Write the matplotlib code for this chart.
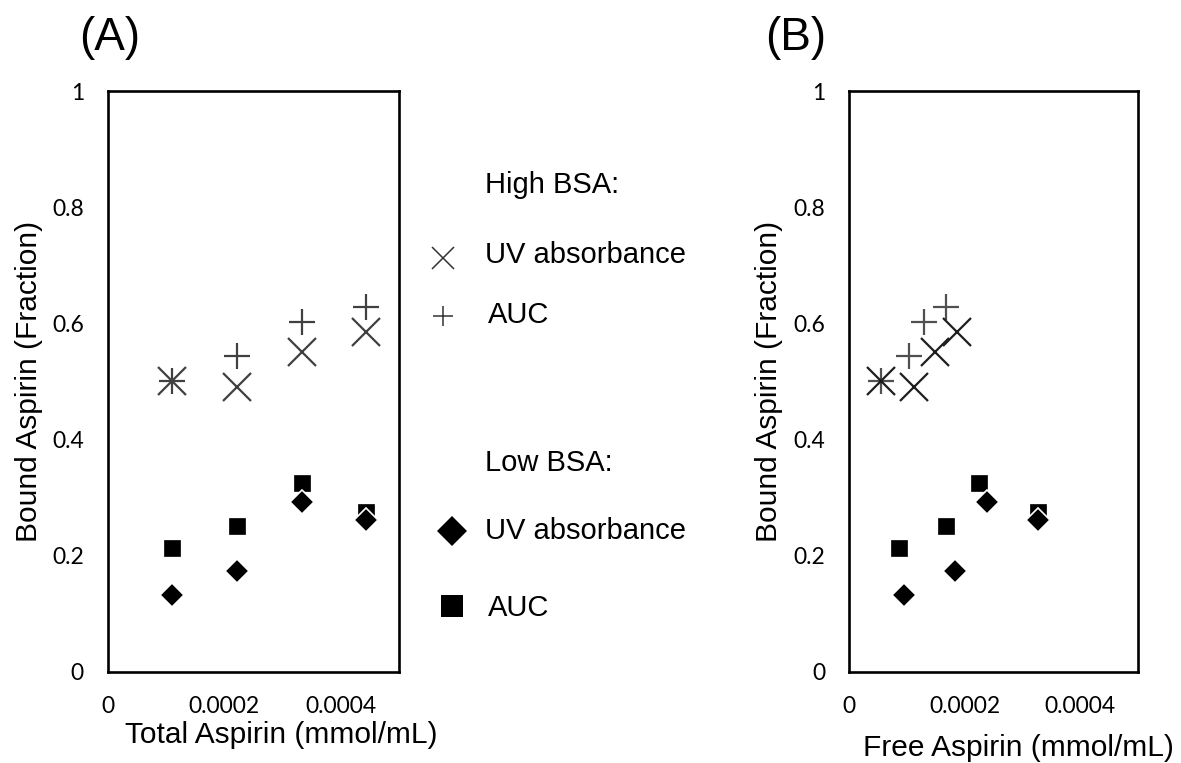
import matplotlib
matplotlib.use("Agg")
import matplotlib.pyplot as plt
from matplotlib.lines import Line2D

W, H = 1181, 763

# ---------------- data ----------------
total_aspirin = [0.000111, 0.000222, 0.000333, 0.000444]
high_uv_bound = [0.501, 0.491, 0.550, 0.585]
high_auc_bound = [0.501, 0.544, 0.603, 0.628]
low_uv_bound = [0.133, 0.173, 0.292, 0.262]
low_auc_bound = [0.213, 0.252, 0.325, 0.276]

free_high_uv = [0.0000551, 0.000113, 0.000148, 0.000186]
free_high_auc = [0.0000551, 0.000103, 0.000130, 0.000167]
free_low_uv = [0.0000944, 0.000183, 0.000238, 0.000327]
free_low_auc = [0.0000857, 0.000167, 0.000225, 0.000327]

y_ticks = [0, 0.2, 0.4, 0.6, 0.8, 1]
y_tick_labels = ["0", "0.2", "0.4", "0.6", "0.8", "1"]
x_ticks = [0, 0.0002, 0.0004]
x_tick_labels = ["0", "0.0002", "0.0004"]

panel_titles = ["(A)", "(B)"]
x_labels = ["Total Aspirin (mmol/mL)", "Free Aspirin (mmol/mL)"]
y_label = "Bound Aspirin (Fraction)"
legend_headers = ["High BSA:", "Low BSA:"]
legend_entries = ["UV absorbance", "AUC"]

TXT = "Liberation Sans"
TICK = "Lato"

fig = plt.figure(figsize=(W / 100, H / 100), dpi=100)


def px_axes(left, top, right, bottom):
    return [left / W, (H - bottom) / H, (right - left) / W, (bottom - top) / H]


axA = fig.add_axes(px_axes(107.5, 91, 399, 672))
axB = fig.add_axes(px_axes(849, 91, 1138, 672))

gx = "#404040"


def style(ax, xlabel, xlab_pos, ylab_x):
    ax.set_xlim(0, 0.0005)
    ax.set_ylim(0, 1)
    ax.set_xticks(x_ticks)
    ax.set_xticklabels(x_tick_labels, fontfamily=TICK, fontsize=16.5)
    ax.set_yticks(y_ticks)
    ax.set_yticklabels(y_tick_labels, fontfamily=TICK, fontsize=16.5)
    ax.tick_params(axis="x", length=0, pad=17)
    ax.tick_params(axis="y", length=0, pad=17)
    for s in ax.spines.values():
        s.set_linewidth(1.9)
        s.set_color("black")
    ax.set_xlabel(xlabel, fontfamily=TXT, fontsize=21.5)
    ax.xaxis.label.set_va("baseline")
    ax.xaxis.set_label_coords(*xlab_pos)
    ax.set_ylabel(y_label, fontfamily=TXT, fontsize=21.5)
    ax.yaxis.label.set_va("baseline")
    ax.yaxis.set_label_coords(ylab_x, 0.5)


# Panel A
axA.plot(total_aspirin, high_uv_bound, ls="none", marker="x", ms=20, mew=1.6, color=gx)
axA.plot(total_aspirin, high_auc_bound, ls="none", marker="+", ms=19, mew=1.6, color=gx)
axA.plot(total_aspirin, low_auc_bound, ls="none", marker="s", ms=11, mew=0.5, color="black")
axA.plot(total_aspirin, low_uv_bound, ls="none", marker="D", ms=12, mew=1.2,
         mfc="black", mec="white")
style(axA, x_labels[0], (0.595, -0.122), -0.242)

# Panel B
axB.plot(free_high_auc, high_auc_bound, ls="none", marker="+", ms=19, mew=1.6, color="#505050")
axB.plot(free_high_uv, high_uv_bound, ls="none", marker="x", ms=20, mew=1.6, color="#1e1e1e")
axB.plot(free_low_auc, low_auc_bound, ls="none", marker="s", ms=11, mew=0.5, color="black")
axB.plot(free_low_uv, low_uv_bound, ls="none", marker="D", ms=12, mew=1.2,
         mfc="black", mec="white")
style(axB, x_labels[1], (0.585, -0.145), -0.250)

# Panel titles
fig.text(110 / W, 1 - 50 / H, panel_titles[0], fontfamily=TXT, fontsize=33,
         ha="center", va="baseline")
fig.text(796 / W, 1 - 50 / H, panel_titles[1], fontfamily=TXT, fontsize=33,
         ha="center", va="baseline")

# Legend (drawn manually in figure space)
def ftxt(x, y, s):
    fig.text(x / W, 1 - y / H, s, fontfamily=TXT, fontsize=21, ha="left", va="baseline")


def fmark(x, y, **kw):
    fig.add_artist(Line2D([x / W], [1 - y / H], transform=fig.transFigure, ls="none", **kw))


ftxt(485, 193, legend_headers[0])
ftxt(485, 263, legend_entries[0])
ftxt(488, 323, legend_entries[1])
ftxt(485, 471, legend_headers[1])
ftxt(485, 539, legend_entries[0])
ftxt(488, 616, legend_entries[1])

fmark(443, 258, marker="x", ms=15.5, mew=1.1, color="#333333")
fmark(443, 316, marker="+", ms=14.5, mew=1.1, color="#333333")
fmark(452, 531, marker="D", ms=15, mew=0, color="black")
fmark(452, 606, marker="s", ms=15.5, mew=0, color="black")

fig.savefig("out.png", dpi=100)
